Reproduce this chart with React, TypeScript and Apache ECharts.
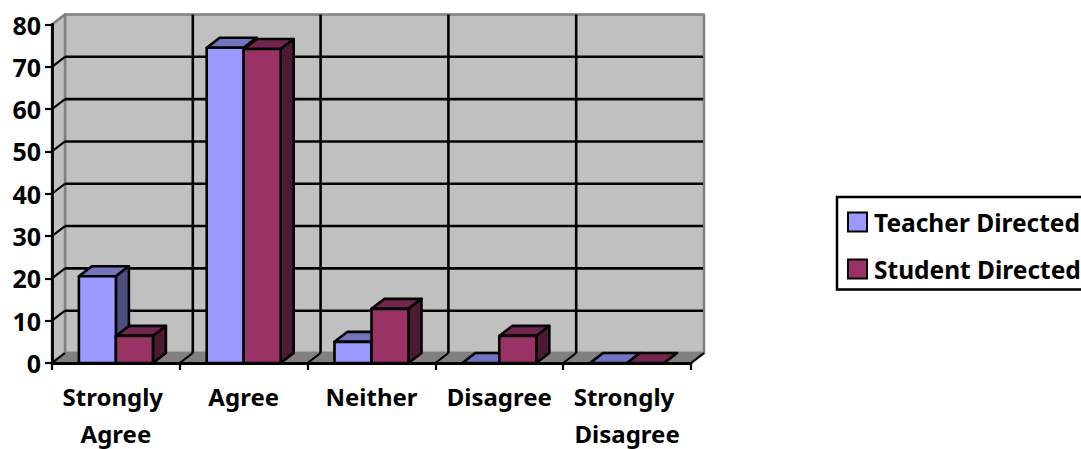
import React, { useEffect, useRef } from "react";
import * as echarts from "echarts";

const categories = ["Strongly Agree", "Agree", "Neither", "Disagree", "Strongly Disagree"];
const teacherDirected = [20.5, 74.5, 5, 0, 0];
const studentDirected = [6.4, 74.2, 12.8, 6.4, 0];
const yTicks = [0, 10, 20, 30, 40, 50, 60, 70, 80];

const DX = 13;
const DY = -10;
const BAR_FRACTION = 37 / 127.8;
const FONT = "'Noto Sans', 'Open Sans', sans-serif";

const wallRender = (_params: any, api: any) => {
  const [left, bottom] = api.coord([0, 0]);
  const top = api.coord([0, 80])[1];
  const step = api.size([1, 0])[0];
  const x0 = left - step / 2;
  const x1 = x0 + step * categories.length;
  const children: any[] = [];
  const poly = (points: number[][], fill: string) => ({
    type: "polygon",
    shape: { points },
    style: { fill, stroke: "#808080", lineWidth: 2.5, lineJoin: "round" },
  });
  const line = (a: number[], b: number[], stroke = "#000", lineWidth = 2) => ({
    type: "line",
    shape: { x1: a[0], y1: a[1], x2: b[0], y2: b[1] },
    style: { stroke, lineWidth },
  });
  children.push(poly([[x0 + DX, top + DY], [x1 + DX, top + DY], [x1 + DX, bottom + DY], [x0 + DX, bottom + DY]], "#c0c0c0"));
  children.push(poly([[x0, top], [x0 + DX, top + DY], [x0 + DX, bottom + DY], [x0, bottom]], "#c0c0c0"));
  children.push(poly([[x0, bottom], [x0 + DX, bottom + DY], [x1 + DX, bottom + DY], [x1, bottom]], "#808080"));
  yTicks.forEach((t) => {
    const y = api.coord([0, t])[1];
    if (t > 0 && t < 80) {
      children.push(line([x0 + DX, y + DY], [x1 + DX - 1, y + DY], "#000", 2.6));
    }
    if (t > 0) children.push(line([x0, y], [x0 + DX, y + DY], t === 80 ? "#808080" : "#000", 2.2));
  });
  categories.forEach((_c, i) => {
    const x = x0 + step * i;
    if (i > 0) children.push(line([x + DX, top + DY], [x + DX, bottom + DY], "#000", 2.6));
    children.push(line([x, bottom], [x + DX, bottom + DY], "#000", 2.2));
  });
  children.push(line([x1, bottom], [x1 + DX, bottom + DY], "#000", 2.2));
  return { type: "group", children };
};

const barRender = (index: number, front: string, topFace: string, side: string) => (_params: any, api: any) => {
  const cat = api.value(0);
  const base = api.coord([cat, 0]);
  const head = api.coord([cat, api.value(1)]);
  const w = api.size([1, 0])[0] * BAR_FRACTION;
  const xa = base[0] - w + index * w;
  const xb = xa + w;
  const yb = base[1];
  const yt = head[1];
  const style = (fill: string) => ({ fill, stroke: "#000", lineWidth: 2.6, lineJoin: "round" });
  const poly = (points: number[][], fill: string) => ({ type: "polygon", shape: { points }, style: style(fill) });
  const children: any[] = [
    poly([[xa, yt], [xa + DX, yt + DY], [xb + DX, yt + DY], [xb, yt]], topFace),
  ];
  if (yb - yt > 0.5) {
    children.push(poly([[xb, yt], [xb + DX, yt + DY], [xb + DX, yb + DY], [xb, yb]], side));
    children.push(poly([[xa, yt], [xb, yt], [xb, yb], [xa, yb]], front));
  }
  return { type: "group", children };
};

export default function App() {
  const ref = useRef<HTMLDivElement>(null);
  useEffect(() => {
    document.body.style.margin = "0";
    const chart = echarts.init(ref.current!, undefined, { renderer: "svg" });
    chart.setOption({
      animation: false,
      backgroundColor: "#fff",
      grid: { left: 52, top: 24.5, width: 639, height: 338.5, outerBoundsMode: "none" },
      xAxis: {
        type: "category",
        data: categories,
        z: 3,
        axisLine: { show: true, lineStyle: { color: "#000", width: 2.8 } },
        axisTick: { show: true, alignWithLabel: false, length: 7, lineStyle: { color: "#000", width: 2.2 } },
        axisLabel: {
          interval: 0,
          color: "#000",
          fontFamily: FONT,
          fontWeight: "bold",
          fontSize: 24,
          lineHeight: 37,
          margin: 15,
          width: 124,
          overflow: "break",
        },
        splitLine: { show: false },
      },
      yAxis: {
        type: "value",
        min: 0,
        max: 80,
        interval: 10,
        z: 3,
        axisLine: { show: true, lineStyle: { color: "#000", width: 2.8 } },
        axisTick: { show: true, length: 7, lineStyle: { color: "#000", width: 2.2 } },
        axisLabel: { color: "#000", fontFamily: FONT, fontWeight: "bold", fontSize: 25, margin: 11 },
        splitLine: { show: false },
      },
      legend: {
        orient: "vertical",
        left: 837,
        top: 197,
        padding: [12.5, 10, 8, 10],
        backgroundColor: "#fff",
        borderColor: "#000",
        borderWidth: 2.5,
        borderRadius: 0,
        itemWidth: 19,
        itemHeight: 19,
        itemGap: 22,
        icon: "rect",
        itemStyle: { borderColor: "#000", borderWidth: 2 },
        textStyle: { color: "#000", fontFamily: FONT, fontWeight: "bold", fontSize: 24.5, padding: [0, 0, 0, 2] },
        data: ["Teacher Directed", "Student Directed"],
      },
      series: [
        {
          type: "custom",
          name: "wall",
          silent: true,
          clip: false,
          z: 1,
          renderItem: wallRender,
          data: [[0, 0]],
          encode: { x: 0, y: 1 },
        },
        {
          type: "custom",
          name: "Teacher Directed",
          clip: false,
          z: 2,
          itemStyle: { color: "#9999ff" },
          renderItem: barRender(0, "#9999ff", "#7373bf", "#4d4d80"),
          data: teacherDirected.map((v, i) => [i, v]),
          encode: { x: 0, y: 1 },
        },
        {
          type: "custom",
          name: "Student Directed",
          clip: false,
          z: 2,
          itemStyle: { color: "#993366" },
          renderItem: barRender(1, "#993366", "#73264d", "#4d1a33"),
          data: studentDirected.map((v, i) => [i, v]),
          encode: { x: 0, y: 1 },
        },
      ],
    });
    return () => chart.dispose();
  }, []);
  return <div ref={ref} style={{ position: "absolute", left: 0, top: 0, width: 1081, height: 449 }} />;
}
